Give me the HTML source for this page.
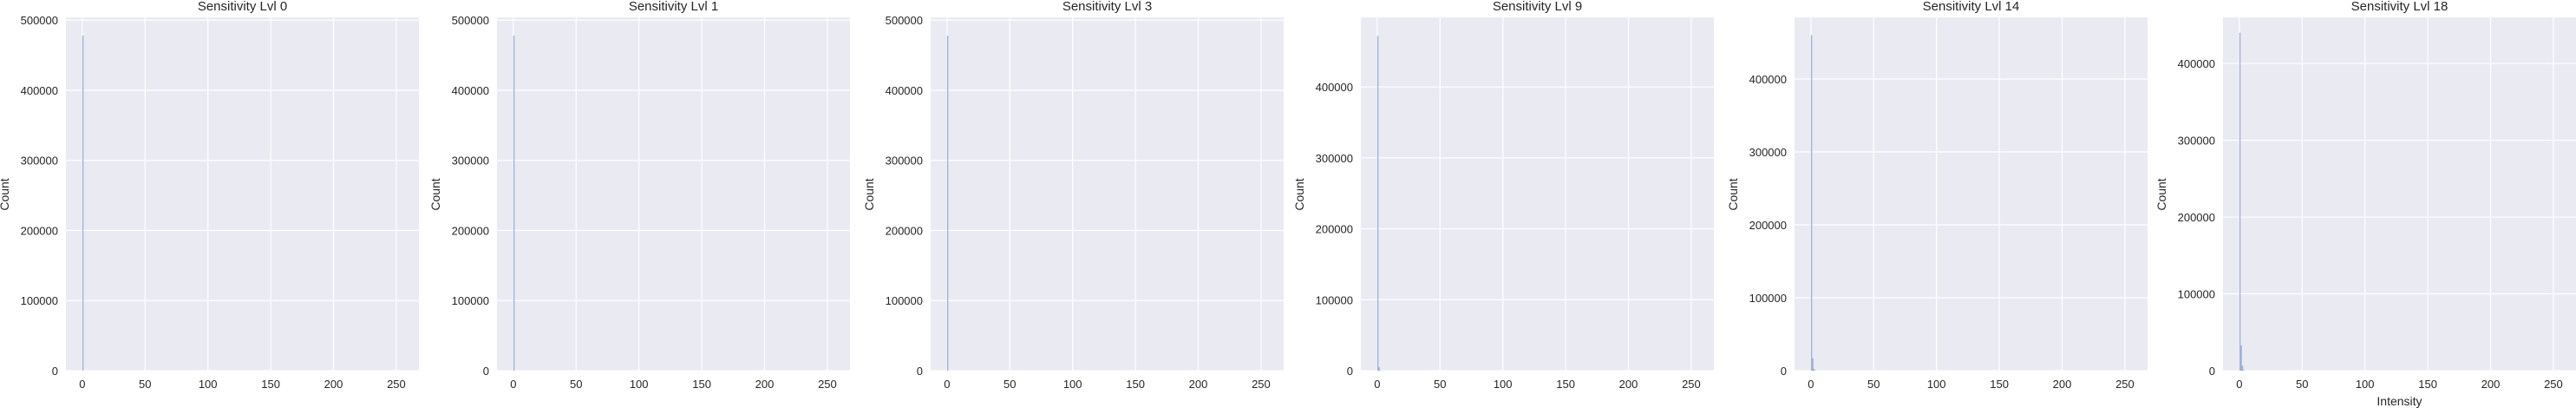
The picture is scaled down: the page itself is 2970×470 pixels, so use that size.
<!DOCTYPE html>
<html><head><meta charset="utf-8">
<style>
html,body{margin:0;padding:0;background:#fff;}
svg{display:block;font-family:"Liberation Sans",sans-serif;}
</style></head>
<body>
<svg id="chart" width="2970" height="470" viewBox="0 0 2970 470" xmlns="http://www.w3.org/2000/svg"></svg>
<script>
const titles = ["Sensitivity Lvl 0","Sensitivity Lvl 1","Sensitivity Lvl 3","Sensitivity Lvl 9","Sensitivity Lvl 14","Sensitivity Lvl 18"];
const yMaxes = [504000, 504000, 504000, 498000, 484500, 460000];
const binStarts = [0, 1, 2, 3];
const countsLvl0 = [478000, 0, 0, 0];
const countsLvl1 = [478000, 0, 0, 0];
const countsLvl3 = [478000, 300, 0, 0];
const countsLvl9 = [472000, 5000, 600, 0];
const countsLvl14 = [460000, 17000, 2500, 500];
const countsLvl18 = [440000, 33000, 6500, 1200];
const allCounts = [countsLvl0, countsLvl1, countsLvl3, countsLvl9, countsLvl14, countsLvl18];
const xTicks = [0, 50, 100, 150, 200, 250];
const yTicks = [0, 100000, 200000, 300000, 400000, 500000];

const NS = "http://www.w3.org/2000/svg";
const svg = document.getElementById("chart");
function mk(tag, attrs, parent){const e=document.createElementNS(NS,tag);for(const k in attrs)e.setAttribute(k,attrs[k]);(parent||svg).appendChild(e);return e;}

const lefts = [76, 573, 1073, 1569, 2069, 2563];
const W = 407, plotTop = 20, plotBottom = 427;
const xMin = -13, xMax = 268;

titles.forEach((t, i) => {
  const L = lefts[i];
  const g = mk("g", {});
  
  
  const xs = v => L + (v - xMin) / (xMax - xMin) * W;
  const ys = v => plotBottom - v / yMaxes[i] * (plotBottom - plotTop);
  const bg = mk("rect", {x:L, y:plotTop, width:W, height:plotBottom-plotTop, fill:"#eaeaf2"}, g);
  
  
  xTicks.forEach(v => {
    const x = xs(v);
    mk("line", {x1:x, x2:x, y1:plotTop, y2:plotBottom, stroke:"#fff", "stroke-width":1.2}, g);
    const tx = mk("text", {x:x, y:447, "text-anchor":"middle", "font-size":13, fill:"#262626"}, g);
    tx.textContent = v;
    
    
  });
  yTicks.forEach(v => {
    if (v > yMaxes[i]) return;
    const y = ys(v);
    mk("line", {x1:L, x2:L+W, y1:y, y2:y, stroke:"#fff", "stroke-width":1.2}, g);
    const ty = mk("text", {x:L-9, y:y+5, "text-anchor":"end", "font-size":13, fill:"#262626"}, g);
    ty.textContent = v;
    
    
  });
  allCounts[i].forEach((c, j) => {
    if (c <= 0) return;
    const x0 = xs(binStarts[j]), x1 = xs(binStarts[j] + 1);
    const b = mk("rect", {x:x0, y:ys(c), width:Math.max(1, x1-x0), height:plotBottom-ys(c), fill:"#4c72b0", "fill-opacity":0.5}, g);
    
    
  });
  const tt = mk("text", {x:L+W/2, y:12, "text-anchor":"middle", "font-size":15, fill:"#262626"}, g);
  tt.textContent = t;
  
  
  const yl = mk("text", {x:0, y:0, transform:"translate(" + (L-66) + ",224) rotate(-90)", "text-anchor":"middle", "font-size":14, fill:"#262626"}, g);
  yl.textContent = "Count";
  
  
  if (i === 5) {
    const xl = mk("text", {x:L+W/2, y:467, "text-anchor":"middle", "font-size":14, fill:"#262626"}, g);
    xl.textContent = "Intensity";
    
    
  }
});
</script>
</body></html>
